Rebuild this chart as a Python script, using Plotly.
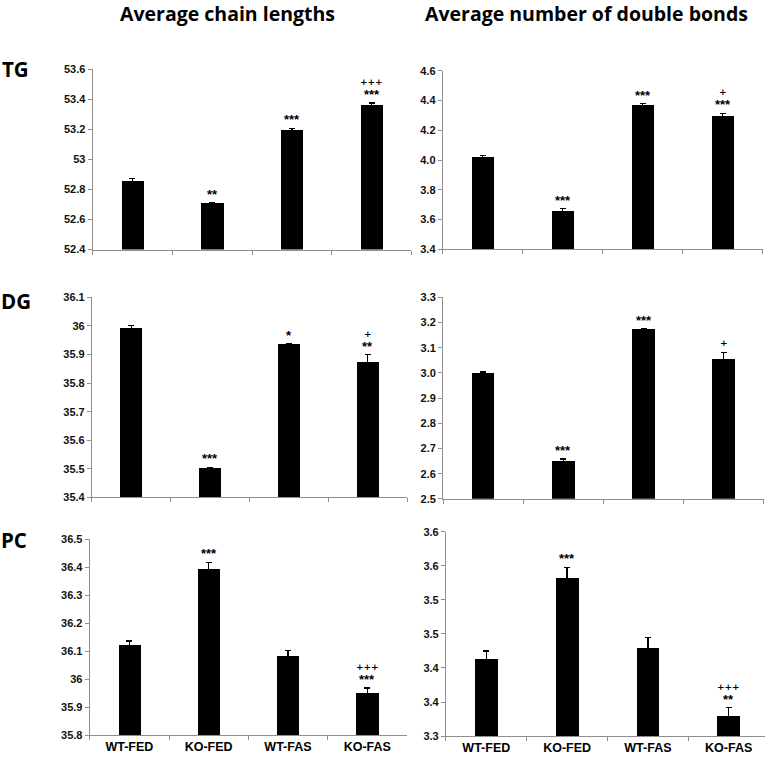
import plotly.graph_objects as go

W, H = 765, 763

groups = ["WT-FED", "KO-FED", "WT-FAS", "KO-FAS"]

# ---- data ----
tg_chain = [52.854, 52.710, 53.192, 53.361]
tg_chain_err = [0.017, 0.003, 0.016, 0.015]
tg_chain_stars = ["", "**", "***", "***"]
tg_chain_plus = ["", "", "", "+++"]
tg_chain_ticks = [52.4, 52.6, 52.8, 53.0, 53.2, 53.4, 53.6]
tg_chain_ticktext = ["52.4", "52.6", "52.8", "53", "53.2", "53.4", "53.6"]

tg_db = [4.025, 3.658, 4.371, 4.299]
tg_db_err = [0.007, 0.015, 0.007, 0.015]
tg_db_stars = ["", "***", "***", "***"]
tg_db_plus = ["", "", "", "+"]
tg_db_ticks = [3.4, 3.6, 3.8, 4.0, 4.2, 4.4, 4.6]
tg_db_ticktext = ["3.4", "3.6", "3.8", "4.0", "4.2", "4.4", "4.6"]

dg_chain = [35.990, 35.502, 35.934, 35.874]
dg_chain_err = [0.012, 0.003, 0.003, 0.025]
dg_chain_stars = ["", "***", "*", "**"]
dg_chain_plus = ["", "", "", "+"]
dg_chain_ticks = [35.4, 35.5, 35.6, 35.7, 35.8, 35.9, 36.0, 36.1]
dg_chain_ticktext = ["35.4", "35.5", "35.6", "35.7", "35.8", "35.9", "36", "36.1"]

dg_db = [3.000, 2.650, 3.171, 3.053]
dg_db_err = [0.003, 0.008, 0.005, 0.028]
dg_db_stars = ["", "***", "***", ""]
dg_db_plus = ["", "", "", "+"]
dg_db_ticks = [2.5, 2.6, 2.7, 2.8, 2.9, 3.0, 3.1, 3.2, 3.3]
dg_db_ticktext = ["2.5", "2.6", "2.7", "2.8", "2.9", "3.0", "3.1", "3.2", "3.3"]

pc_chain = [36.121, 36.393, 36.083, 35.951]
pc_chain_err = [0.016, 0.024, 0.021, 0.018]
pc_chain_stars = ["", "***", "", "***"]
pc_chain_plus = ["", "", "", "+++"]
pc_chain_ticks = [35.8, 35.9, 36.0, 36.1, 36.2, 36.3, 36.4, 36.5]
pc_chain_ticktext = ["35.8", "35.9", "36", "36.1", "36.2", "36.3", "36.4", "36.5"]

pc_db = [3.413, 3.533, 3.430, 3.329]
pc_db_err = [0.012, 0.015, 0.015, 0.0125]
pc_db_stars = ["", "***", "", "**"]
pc_db_plus = ["", "", "", "+++"]
pc_db_ticks = [3.30, 3.35, 3.40, 3.45, 3.50, 3.55, 3.60]
pc_db_ticktext = ["3.3", "3.4", "3.4", "3.5", "3.5", "3.6", "3.6"]

col_titles = ["Average chain lengths", "Average number of double bonds"]
row_labels = ["TG", "DG", "PC"]

# ---- layout geometry (pixels) ----
# (x0, category width, y top, y bottom)
panels = [
    (tg_chain, tg_chain_err, tg_chain_stars, tg_chain_plus, tg_chain_ticks, tg_chain_ticktext, (92.6, 79.7, 64.5, 247.4), False),
    (tg_db, tg_db_err, tg_db_stars, tg_db_plus, tg_db_ticks, tg_db_ticktext, (442.7, 80.0, 65.7, 247.3), False),
    (dg_chain, dg_chain_err, dg_chain_stars, dg_chain_plus, dg_chain_ticks, dg_chain_ticktext, (91.9, 78.8, 296.0, 499.3), False),
    (dg_db, dg_db_err, dg_db_stars, dg_db_plus, dg_db_ticks, dg_db_ticktext, (443.1, 80.2, 296.0, 500.7), False),
    (pc_chain, pc_chain_err, pc_chain_stars, pc_chain_plus, pc_chain_ticks, pc_chain_ticktext, (89.7, 79.3, 541.7, 741.0), True),
    (pc_db, pc_db_err, pc_db_stars, pc_db_plus, pc_db_ticks, pc_db_ticktext, (445.9, 80.8, 534.3, 741.7), True),
]

AXIS_COLOR = "#8f8f8f"
TICK_FONT = dict(family="Liberation Sans, Arial", size=11, color="#111111", weight="bold")
XTICK_FONT = dict(family="Liberation Sans, Arial", size=12.5, color="#000000", weight="bold")
ANN_FONT = dict(family="Liberation Sans, Arial", size=13, color="#000000", weight="bold")
PLUS_FONT = dict(family="DejaVu Sans", size=9, color="#000000", weight="bold")

fig = go.Figure()
layout = dict(
    width=W, height=H,
    margin=dict(l=0, r=0, t=0, b=0),
    paper_bgcolor="white", plot_bgcolor="white",
    showlegend=False,
    bargap=0,
)
annotations = []

for i, (vals, errs, stars, plus, ticks, ticktext, geo, show_x) in enumerate(panels):
    n = i + 1
    x0, cw, yt, yb = geo
    x1 = min(x0 + 4 * cw, W)
    xr_hi = -0.5 + (x1 - x0) / cw
    xa = "x" if n == 1 else f"x{n}"
    ya = "y" if n == 1 else f"y{n}"
    fig.add_trace(go.Bar(
        x=groups, y=vals, width=0.28,
        marker=dict(color="black", line=dict(width=0)),
        error_y=dict(type="data", array=errs, color="black", thickness=1.3, width=3),
        xaxis=xa, yaxis=ya, hoverinfo="skip",
    ))
    layout["xaxis" if n == 1 else f"xaxis{n}"] = dict(
        domain=[x0 / W, x1 / W], anchor=ya,
        type="category", categoryorder="array", categoryarray=groups,
        range=[-0.5, xr_hi],
        showline=True, linecolor=AXIS_COLOR, linewidth=1,
        ticks="outside", tickson="boundaries", ticklen=4, tickcolor=AXIS_COLOR, tickwidth=1,
        showticklabels=show_x, tickfont=XTICK_FONT, showgrid=False, zeroline=False,
        fixedrange=True,
    )
    layout["yaxis" if n == 1 else f"yaxis{n}"] = dict(
        domain=[1 - yb / H, 1 - yt / H], anchor=xa,
        range=[ticks[0], ticks[-1]],
        tickmode="array", tickvals=ticks, ticktext=ticktext,
        showline=True, linecolor=AXIS_COLOR, linewidth=1,
        ticks="outside", ticklen=4, tickcolor=AXIS_COLOR, tickwidth=1,
        tickfont=TICK_FONT, showgrid=False, zeroline=False, fixedrange=True,
    )
    for g, v, e, s, p in zip(groups, vals, errs, stars, plus):
        top = v + e
        if s:
            annotations.append(dict(
                x=g, y=top, xref=xa, yref=ya, text=s, showarrow=False,
                yanchor="bottom", yshift=-1, font=ANN_FONT,
            ))
        if p:
            annotations.append(dict(
                x=g, y=top, xref=xa, yref=ya, text=p, showarrow=False,
                yanchor="bottom", yshift=(14 if s else 3), font=PLUS_FONT,
            ))

TITLE_FONT = dict(family="Open Sans", size=19.5, color="black", weight="bold")
for t, cx in zip(col_titles, [227, 586]):
    annotations.append(dict(x=cx / W, y=1 - 8 / H, xref="paper", yref="paper",
                            text=t, showarrow=False, xanchor="center", yanchor="middle",
                            font=TITLE_FONT))
ROW_FONT = dict(family="Open Sans", size=20.5, color="black", weight="bold")
for t, (cx, cy) in zip(row_labels, [(15, 64), (16, 300), (14, 543)]):
    annotations.append(dict(x=cx / W, y=1 - cy / H, xref="paper", yref="paper",
                            text=t, showarrow=False, xanchor="center", yanchor="middle",
                            font=ROW_FONT))

layout["annotations"] = annotations
fig.update_layout(**layout)
fig.write_html("out.html", config={"displayModeBar": False},
               post_script="document.body.style.margin='0';document.body.style.overflow='hidden';")
